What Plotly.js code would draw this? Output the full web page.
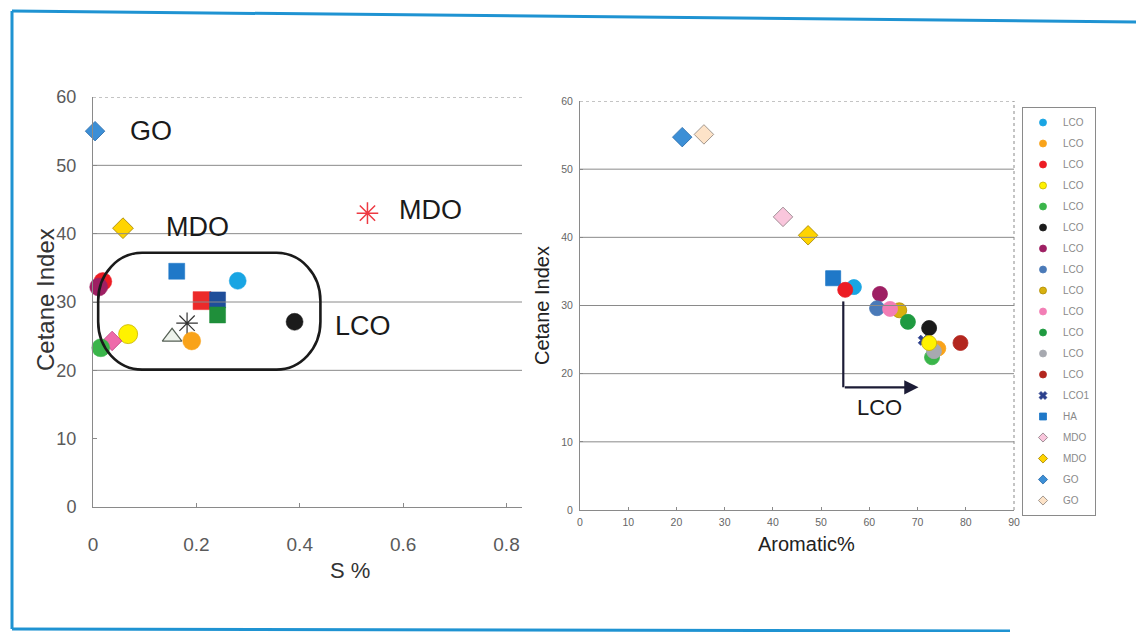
<!DOCTYPE html>
<html><head><meta charset="utf-8">
<script src="https://cdn.plot.ly/plotly-3.0.1.min.js"></script>
<style>html,body{margin:0;padding:0;background:#fff}#chart{width:1136px;height:632px}</style>
</head><body><div id="chart"></div>
<script>
// ---------- Left chart: S % vs Cetane Index ----------
const leftNames = ['GO','MDO','MDO','HA','LCO','LCO','LCO','LCO','LCO','LCO1','LCO','LCO','LCO','LCO','LCO','LCO','LCO'];
const leftS  = [0.004, 0.058, 0.531, 0.162, 0.280, 0.211, 0.241, 0.241, 0.390, 0.182, 0.153, 0.191, 0.068, 0.037, 0.015, 0.019, 0.011];
const leftCI = [55.0, 40.8, 43.0, 34.5, 33.1, 30.2, 30.3, 28.1, 27.1, 26.9, 24.9, 24.3, 25.3, 24.3, 23.3, 33.0, 32.2];
const leftTickVals = [0, 0.2, 0.4, 0.6, 0.8];
const leftTickText = ['0', '0.2', '0.4', '0.6', '0.8'];
const ciTickVals = [0, 10, 20, 30, 40, 50, 60];
const leftLabels = ['GO', 'MDO', 'MDO', 'LCO'];

// ---------- Right chart: Aromatic % vs Cetane Index ----------
const rightNames = ['LCO','LCO','LCO','LCO','LCO','LCO','LCO','LCO','LCO','LCO','LCO','LCO','LCO','LCO1','HA','MDO','MDO','GO','GO'];
const rightArom = [56.8, 74.3, 55.0, 72.4, 73.0, 72.4, 62.2, 61.6, 66.2, 64.3, 68.0, 73.4, 78.9, 71.2, 52.5, 42.1, 47.3, 21.2, 25.7];
const rightCI   = [32.7, 23.7, 32.3, 24.5, 22.4, 26.7, 31.7, 29.6, 29.3, 29.5, 27.6, 23.3, 24.5, 24.9, 34.0, 43.0, 40.3, 54.7, 55.1];
const aromTickVals = [0, 10, 20, 30, 40, 50, 60, 70, 80, 90];
const arrowLabel = 'LCO';

// ---------- styles (kept apart from the data) ----------
const FONT = 'Liberation Sans, Arial, Helvetica, sans-serif';
const leftStyle = {
  color:  ['#3c8fd6','#ffd400','#ee3a43','#1f78c8','#19a5e3','#ec2a2a','#1f4e9a','#1f8f3a','#1b1b1b','#333333','#eef3ec','#f9a31a','#fff200','#ee6aaa','#3ab54a','#ec1c24','#9e1f63'],
  symbol: ['diamond','diamond','asterisk-open','square','circle','square','square','square','circle','asterisk-open','triangle-up','circle','circle','diamond','circle','circle','circle'],
  size:   [15,16,18,16,17,18,16,16,17,18,17,18,19,15,18,18,18],
  line:   ['#2a6aa8','#a08000','#ee3a43','#1f78c8','#19a5e3','#ec2a2a','#1f4e9a','#1f8f3a','#1b1b1b','#333333','#556055','#f9a31a','#c8b400','#c04080','#3ab54a','#ec1c24','#9e1f63'],
  lw:     [0.8,0.8,1.5,0.5,0.5,0.5,0.5,0.5,0.5,1.2,1.2,0.5,0.8,0.8,0.5,0.5,0.5]
};
const rightStyle = {
  color:  ['#19a5e3','#f9a31a','#ec1c24','#fff200','#3ab54a','#1b1b1b','#9e1f63','#4a7ab8','#d8b10f','#f27eb5','#1f9a40','#a7a9b0','#b3261e','#2b3f8c','#1f78c8','#f9c6dc','#ffd400','#3c8fd6','#fde3c8'],
  symbol: ['circle','circle','circle','circle','circle','circle','circle','circle','circle','circle','circle','circle','circle','x','square','diamond','diamond','diamond','diamond'],
  line:   ['#19a5e3','#f9a31a','#ec1c24','#c8b400','#3ab54a','#1b1b1b','#9e1f63','#4a7ab8','#b08c00','#f27eb5','#1f9a40','#a7a9b0','#b3261e','#2b3f8c','#1f78c8','#8a7a80','#a08000','#2a6aa8','#8a8078']
};
const rightDrawOrder = [17,18,15,16,14,0,2,6,7,8,9,10,13,5,1,4,11,12,3];

const traces = [];
traces.push({
  type: 'scatter', mode: 'markers', x: leftS, y: leftCI, text: leftNames,
  xaxis: 'x', yaxis: 'y', showlegend: false, cliponaxis: false, hoverinfo: 'x+y+text',
  marker: { color: leftStyle.color, symbol: leftStyle.symbol, size: leftStyle.size, opacity: 1,
            line: { color: leftStyle.line, width: leftStyle.lw } }
});
const ro = rightDrawOrder;
traces.push({
  type: 'scatter', mode: 'markers',
  x: ro.map(i => rightArom[i]), y: ro.map(i => rightCI[i]), text: ro.map(i => rightNames[i]),
  xaxis: 'x2', yaxis: 'y2', showlegend: false, cliponaxis: false, hoverinfo: 'x+y+text',
  marker: { color: ro.map(i => rightStyle.color[i]), symbol: ro.map(i => rightStyle.symbol[i]),
            size: ro.map(i => rightStyle.symbol[i] === 'x' ? 9 : 15), opacity: 1,
            line: { color: ro.map(i => rightStyle.line[i]), width: 0.8 } }
});
// legend entries (small symbols like the original)
rightNames.forEach((nm, i) => {
  traces.push({
    type: 'scatter', mode: 'markers', x: [null], y: [null], name: nm, legendgroup: 'g' + i,
    xaxis: 'x2', yaxis: 'y2', hoverinfo: 'skip',
    marker: { color: rightStyle.color[i], symbol: rightStyle.symbol[i], size: 7, opacity: 1,
              line: { color: rightStyle.line[i], width: 0.8 } }
  });
});

// ---------- geometry ----------
const W = 1136, H = 632;
const px = v => v / W, py = v => 1 - v / H;
const leftDom = { x: [px(93), px(522)], y: [py(507), py(97)] };
const rightDom = { x: [px(580), px(1014)], y: [py(510), py(101)] };

const shapes = [];
const gridCol = '#8a8a8a';
[20, 30, 40, 50].forEach(v => shapes.push({ type: 'line', xref: 'x domain', yref: 'y', x0: 0, x1: 1, y0: v, y1: v, line: { color: gridCol, width: 1 } }));
shapes.push({ type: 'line', xref: 'x domain', yref: 'y', x0: 0, x1: 1, y0: 60, y1: 60, line: { color: gridCol, width: 1, dash: 'dot' } });
[10, 20, 30, 40, 50].forEach(v => shapes.push({ type: 'line', xref: 'x2 domain', yref: 'y2', x0: 0, x1: 1, y0: v, y1: v, line: { color: gridCol, width: 1 } }));
shapes.push({ type: 'line', xref: 'x2 domain', yref: 'y2', x0: 0, x1: 1, y0: 60, y1: 60, line: { color: gridCol, width: 1, dash: 'dot' } });
shapes.push({ type: 'line', xref: 'x2 domain', yref: 'y2 domain', x0: 1, x1: 1, y0: 0, y1: 1, line: { color: gridCol, width: 1, dash: 'dot' } });

// rounded outline around the LCO group (left chart)
(function () {
  const x0 = 0.010, x1 = 0.440, y0 = 20.1, y1 = 37.2, rx = 0.085, ry = 7.0, k = 0.5523;
  const p = [
    `M${x0 + rx},${y1}`, `L${x1 - rx},${y1}`,
    `C${x1 - rx + k * rx},${y1} ${x1},${y1 - ry + k * ry} ${x1},${y1 - ry}`,
    `L${x1},${y0 + ry}`,
    `C${x1},${y0 + ry - k * ry} ${x1 - rx + k * rx},${y0} ${x1 - rx},${y0}`,
    `L${x0 + rx},${y0}`,
    `C${x0 + rx - k * rx},${y0} ${x0},${y0 + ry - k * ry} ${x0},${y0 + ry}`,
    `L${x0},${y1 - ry}`,
    `C${x0},${y1 - ry + k * ry} ${x0 + rx - k * rx},${y1} ${x0 + rx},${y1}`, 'Z'
  ].join(' ');
  shapes.push({ type: 'path', xref: 'x', yref: 'y', path: p, line: { color: '#1a1a1a', width: 2.6 } });
})();

// arrow (right chart): vertical part
shapes.push({ type: 'line', xref: 'x2', yref: 'y2', x0: 54.6, x1: 54.6, y0: 30.6, y1: 18.0, line: { color: '#1c1c36', width: 2.2 } });

// blue frame of the figure
const blue = '#1f93d2';
shapes.push({ type: 'line', xref: 'paper', yref: 'paper', x0: px(12), x1: px(12), y0: py(11), y1: py(629), line: { color: blue, width: 3 } });
shapes.push({ type: 'line', xref: 'paper', yref: 'paper', x0: px(12), x1: px(1136), y0: py(11), y1: py(22), line: { color: blue, width: 3 } });
shapes.push({ type: 'line', xref: 'paper', yref: 'paper', x0: px(12), x1: px(1010), y0: py(629), y1: py(631), line: { color: blue, width: 3 } });

// ---------- annotations ----------
const labelPos = [[0.112, 55.0], [0.203, 41.0], [0.653, 43.5], [0.522, 26.5]];
const C = { xanchor: 'center', yanchor: 'middle', showarrow: false };
const annotations = leftLabels.map((t, i) => Object.assign({
  text: t, xref: 'x', yref: 'y', x: labelPos[i][0], y: labelPos[i][1],
  font: { family: FONT, size: 27, color: '#1a1a1a' }
}, C));
annotations.push(Object.assign({ text: arrowLabel, xref: 'x2', yref: 'y2', x: 62.2, y: 15.0, font: { family: FONT, size: 22, color: '#1a1a1a' } }, C));
annotations.push({ text: '', xref: 'x2', yref: 'y2', axref: 'x2', ayref: 'y2', x: 70.2, y: 18.0, ax: 54.6, ay: 18.0,
  showarrow: true, arrowhead: 2, arrowsize: 1.3, arrowwidth: 2.2, arrowcolor: '#1c1c36' });
// axis titles
annotations.push(Object.assign({ text: 'S %', xref: 'paper', yref: 'paper', x: px(350), y: py(570), font: { family: FONT, size: 22, color: '#333' } }, C));
annotations.push(Object.assign({ text: 'Cetane Index', xref: 'paper', yref: 'paper', x: px(45), y: py(300), textangle: -90, font: { family: FONT, size: 24, color: '#333' } }, C));
annotations.push(Object.assign({ text: 'Aromatic%', xref: 'paper', yref: 'paper', x: px(806), y: py(544), font: { family: FONT, size: 20, color: '#222' } }, C));
annotations.push(Object.assign({ text: 'Cetane Index', xref: 'paper', yref: 'paper', x: px(542), y: py(306), textangle: -90, font: { family: FONT, size: 20, color: '#222' } }, C));

const axisCommon = { showline: true, linecolor: '#8a8a8a', linewidth: 1, ticks: 'inside', tickcolor: '#8a8a8a', showgrid: false, zeroline: false, fixedrange: true };

const layout = {
  width: W, height: H, margin: { l: 0, r: 0, t: 0, b: 0 },
  paper_bgcolor: '#fff', plot_bgcolor: 'rgba(0,0,0,0)',
  font: { family: FONT },
  xaxis: Object.assign({}, axisCommon, { domain: leftDom.x, anchor: 'y', range: [0, 0.83], tickvals: leftTickVals, ticktext: leftTickText, ticklen: 4,
    tickfont: { family: FONT, size: 19, color: '#5a5a5a' }, ticklabelstandoff: 20 }),
  yaxis: Object.assign({}, axisCommon, { domain: leftDom.y, anchor: 'x', range: [0, 60], tickvals: ciTickVals, ticklen: 4,
    tickfont: { family: FONT, size: 18, color: '#5a5a5a' }, ticklabelstandoff: 12 }),
  xaxis2: Object.assign({}, axisCommon, { domain: rightDom.x, anchor: 'y2', range: [0, 90], tickvals: aromTickVals, ticklen: 3,
    tickfont: { family: FONT, size: 10.5, color: '#666' }, ticklabelstandoff: 2 }),
  yaxis2: Object.assign({}, axisCommon, { domain: rightDom.y, anchor: 'x2', range: [0, 60], tickvals: ciTickVals, ticklen: 3,
    tickfont: { family: FONT, size: 10.5, color: '#666' }, ticklabelstandoff: 4 }),
  legend: { x: px(1022), xanchor: 'left', y: py(107), yanchor: 'top', bgcolor: '#fff', bordercolor: '#8a8a8a', borderwidth: 1,
    font: { family: FONT, size: 10, color: '#8a8a8a' }, tracegroupgap: 2, itemclick: false, itemdoubleclick: false },
  shapes: shapes, annotations: annotations, showlegend: true
};

Plotly.newPlot('chart', traces, layout, { displayModeBar: false, staticPlot: true });
</script></body></html>
